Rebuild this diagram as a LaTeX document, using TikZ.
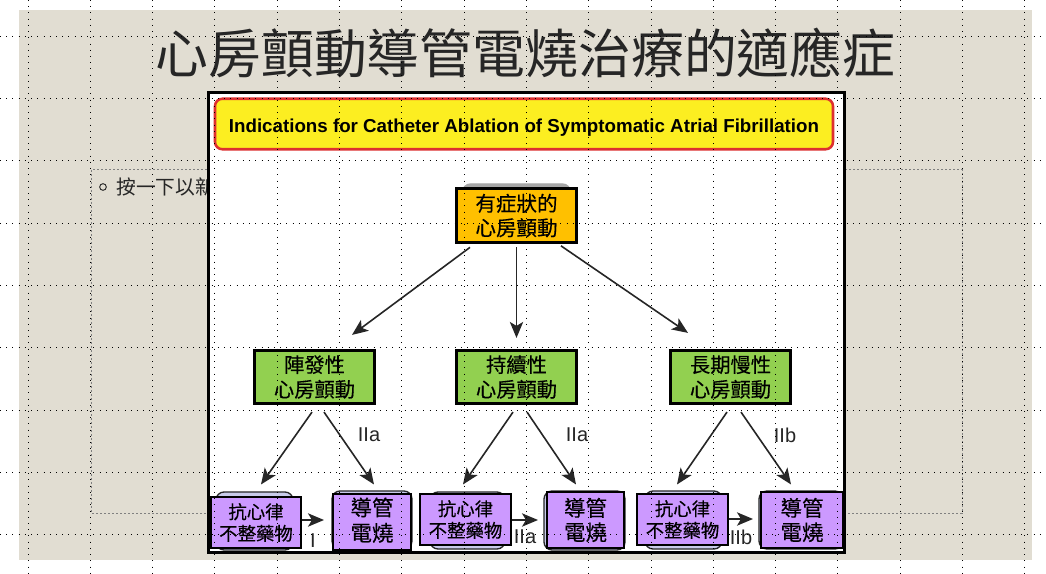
\documentclass[tikz,border=0pt]{standalone}
\usepackage{fontspec}
\setmainfont{Liberation Sans}
\newfontfamily\cjk{Noto Sans CJK TC}
\newfontfamily\cjkb[FakeBold=0.35]{Noto Sans CJK TC}
\usetikzlibrary{arrows.meta}
\def\uu{0.75pt}
\newcommand\lowered[2]{\raisebox{-#1}[0pt][0pt]{\begin{tabular}{@{}c@{}}#2\end{tabular}}}
\definecolor{paper}{HTML}{E1DDD2}
\definecolor{ink}{HTML}{262626}
\definecolor{orangebox}{HTML}{FFC000}
\definecolor{greenbox}{HTML}{92D050}
\definecolor{purplebox}{HTML}{CC99FF}
\definecolor{backbox}{HTML}{C9CBEA}
\definecolor{yellowbox}{HTML}{FCEE21}
\definecolor{redline}{HTML}{DD3030}
\tikzset{
  x=0.75pt,y=-0.75pt,
  arr/.style={draw=ink,line width=1.2pt,-{Stealth[length=12pt,width=10pt,inset=3pt]}},
  topbox/.style={draw=black,line width=2.4pt,fill=orangebox,align=center,inner sep=0pt,font=\cjkb\fontsize{15.4}{17.5}\selectfont},
  greenstyle/.style={draw=black,line width=2pt,fill=greenbox,align=center,inner sep=0pt,minimum width=120.5*\uu,minimum height=53.5*\uu,font=\cjkb\fontsize{15.2}{18.5}\selectfont},
  purple/.style={draw=black,line width=0.8pt,fill=purplebox,align=center,inner sep=0pt,font=\cjkb\fontsize{13.8}{16.2}\selectfont},
  purplebig/.style={purple,font=\cjkb\fontsize{16.1}{18.2}\selectfont},
  back/.style={draw=ink,line width=1pt,fill=backbox,rounded corners=6pt,inner sep=0pt},
  lab/.style={font=\fontsize{15}{17}\selectfont,text=ink,inner sep=0pt},
  griddot/.style={draw=black,line width=0.75pt,dash pattern=on 0.75pt off 3.92pt},
}
\begin{document}
\begin{tikzpicture}
\useasboundingbox (0,0) rectangle (1046,574);
\fill[white] (0,0) rectangle (1046,574);
\fill[paper] (19,10) rectangle (1032,560);
\draw[gray,line width=0.75pt,dash pattern=on 1.5pt off 1.5pt] (91,170) rectangle (962,513);
\node[draw=ink,circle,line width=0.7pt,minimum size=5pt,inner sep=0pt] (bullet) at (103,187) {};
\node[anchor=west,inner sep=0pt,text=ink,font=\cjk\fontsize{14.8}{16}\selectfont] (body) at (116,187) {按一下以新};
\node[inner sep=0pt,text=ink,font=\cjk\fontsize{39.65}{42}\selectfont] (title) at (525.5,53) {心房顫動導管電燒治療的適應症};
% white panel
\node[draw=black,fill=white,line width=2.4pt,outer sep=0pt,minimum width=636*\uu,minimum height=460*\uu,inner sep=0pt] (panel) at (526.5,322.5) {};
\node[draw=redline,fill=yellowbox,line width=1.9pt,rounded corners=5.5pt,minimum width=618*\uu,minimum height=50.5*\uu,inner sep=0pt,font=\bfseries\fontsize{14.05}{16}\selectfont,text=black] (banner) at (524,124) {\raisebox{-6.3pt}[0pt][0pt]{Indications for Catheter Ablation of Symptomatic Atrial Fibrillation}};
% top
\node[back,draw=gray!70,fill=gray!70,minimum width=108*\uu,minimum height=20*\uu] (topback) at (516.5,194) {};
\node[topbox,minimum width=120*\uu,minimum height=54.5*\uu] (top) at (516.5,215.5) {\lowered{5.6pt}{有症狀的\\心房顫動}};
\node[greenstyle] (g1) at (314.5,377) {陣發性\\心房顫動};
\node[greenstyle] (g2) at (516.5,377) {持續性\\心房顫動};
\node[greenstyle] (g3) at (730.5,377) {長期慢性\\心房顫動};
\draw[arr] ([xshift=-46.5*\uu,yshift=-3*\uu]top.south) -- ([xshift=37.5*\uu,yshift=14*\uu]g1.north);
\draw[arr] ([yshift=-3*\uu]top.south) -- ([yshift=11*\uu]g2.north);
\draw[arr] ([xshift=44.5*\uu,yshift=-1.5*\uu]top.south) -- ([xshift=-42.5*\uu,yshift=16*\uu]g3.north);
% labels
\node[lab] (l1) at (369,435) {IIa};
\node[lab] (l2) at (577,435) {IIa};
\node[lab] (l3) at (785,435) {IIb};
\node[lab] (l4) at (313,541) {I};
\node[lab] (l5) at (525,537) {IIa};
\node[lab] (l6) at (741,537) {IIb};
% back boxes
\node[back,minimum width=77*\uu,minimum height=58*\uu] (ba) at (254.5,521) {};
\node[back,minimum width=80*\uu,minimum height=58*\uu] (bb) at (372,520) {};
\node[back,minimum width=75*\uu,minimum height=57*\uu] (bc) at (467.5,520.5) {};
\node[back,minimum width=81*\uu,minimum height=59*\uu] (bd) at (584.5,520.5) {};
\node[back,minimum width=77*\uu,minimum height=58*\uu] (be) at (683.5,520) {};
\node[back,minimum width=84*\uu,minimum height=58*\uu] (bf) at (801,520) {};
% purple boxes
\node[purple,minimum width=90*\uu,minimum height=51*\uu] (pa) at (256,522.5) {抗心律\\不整藥物};
\node[purplebig,minimum width=78*\uu,minimum height=56*\uu] (pb) at (372,522) {\lowered{5pt}{導管\\電燒}};
\node[purple,minimum width=91*\uu,minimum height=51*\uu] (pc) at (465.5,519.5) {抗心律\\不整藥物};
\node[purplebig,minimum width=77*\uu,minimum height=56*\uu] (pd) at (585.5,520) {導管\\電燒};
\node[purple,minimum width=91*\uu,minimum height=51*\uu] (pe) at (682.5,519.5) {抗心律\\不整藥物};
\node[purplebig,minimum width=82*\uu,minimum height=56*\uu] (pf) at (802,520) {導管\\電燒};
% panel edge redrawn over the boxes
\draw[black,line width=2.4pt] (panel.south west) -- (panel.south east);
\draw[black,line width=2.4pt] (panel.north east) -- (panel.south east);
% lower arrows
\draw[arr] ([xshift=-2.5*\uu,yshift=-7*\uu]g1.south) -- ([xshift=5*\uu,yshift=12*\uu]pa.north);
\draw[arr] ([xshift=9.5*\uu,yshift=-7*\uu]g1.south) -- ([xshift=2*\uu,yshift=9*\uu]pb.north);
\draw[arr] ([xshift=-3.5*\uu,yshift=-7*\uu]g2.south) -- ([xshift=-2.5*\uu,yshift=9*\uu]pc.north);
\draw[arr] ([xshift=10.5*\uu,yshift=-7*\uu]g2.south) -- ([xshift=-9.5*\uu,yshift=7*\uu]pd.north);
\draw[arr] ([xshift=-3.5*\uu,yshift=-7*\uu]g3.south) -- ([xshift=-5.5*\uu,yshift=9*\uu]pe.north);
\draw[arr] ([xshift=10.5*\uu,yshift=-7*\uu]g3.south) -- ([xshift=-11*\uu,yshift=7*\uu]pf.north);
\draw[arr] (pa.east |- 0,520) -- (324,520);
\draw[arr] (pc.east |- 0,520) -- (538,520);
\draw[arr] (pe.east |- 0,519) -- (753,519);
% editing grid on top
\foreach \i in {0,...,16} \draw[griddot] ({28+62.3*\i},0) -- ({28+62.3*\i},574);
\foreach \j in {0,...,8} \draw[griddot] (0,{36.3+62.3*\j}) -- (1046,{36.3+62.3*\j});
\end{tikzpicture}
\end{document}
